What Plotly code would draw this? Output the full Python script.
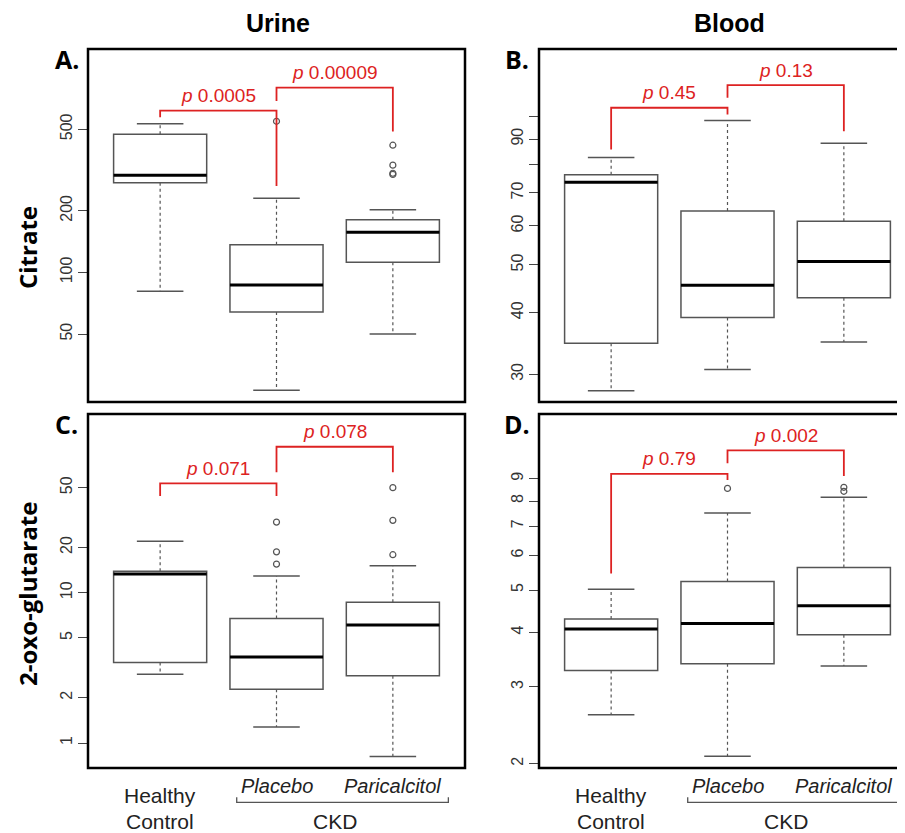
import math
import plotly.graph_objects as go

# ---------------- data ----------------
groups = ["Healthy Control", "Placebo", "Paricalcitol"]
xpos = [1, 2, 3]

# A. Urine citrate
a_lower = [81, 26.6, 50]
a_q1 = [274, 64, 112]
a_median = [298, 86.7, 157]
a_q3 = [473, 136.5, 181]
a_upper = [532, 230, 202]
a_outliers = [[], [547], [418, 334, 305, 301]]
a_pvals = ["0.0005", "0.00009"]
a_ticks = [50, 100, 200, 500]

# B. Blood citrate
b_lower = [27.8, 30.7, 34.9]
b_q1 = [34.7, 39.1, 42.9]
b_median = [73.6, 45.5, 50.8]
b_q3 = [76.2, 64.3, 61.3]
b_upper = [82.6, 98.2, 88.3]
b_outliers = [[], [], []]
b_pvals = ["0.45", "0.13"]
b_ticks = [30, 40, 50, 60, 70, 80, 90, 100]
b_ticktext = ["30", "40", "50", "60", "70", "", "90", ""]

# C. Urine 2-oxo-glutarate
c_lower = [2.87, 1.28, 0.815]
c_q1 = [3.44, 2.28, 2.80]
c_median = [13.3, 3.73, 6.1]
c_q3 = [13.9, 6.75, 8.63]
c_upper = [22.0, 12.9, 15.1]
c_outliers = [[], [29.5, 18.7, 15.5], [50, 30.3, 17.9]]
c_pvals = ["0.071", "0.078"]
c_ticks = [1, 2, 5, 10, 20, 50]

# D. Blood 2-oxo-glutarate
d_lower = [2.59, 2.08, 3.35]
d_q1 = [3.27, 3.39, 3.95]
d_median = [4.07, 4.19, 4.60]
d_q3 = [4.29, 5.23, 5.63]
d_upper = [5.02, 7.51, 8.16]
d_outliers = [[], [8.55], [8.6, 8.42]]
d_pvals = ["0.79", "0.002"]
d_ticks = [2, 3, 4, 5, 6, 7, 8, 9]

# bracket levels: [bar, left leg end, right leg end] for each of two brackets
a_brackets = [[616, 572, 264], [798, 687, 487]]
b_brackets = [[104.2, 85.7, 101], [115.8, 109.2, 93.4]]
c_brackets = [[53.4, 44.0, 44.0], [93.6, 63.2, 63.2]]
d_brackets = [[9.23, 5.46, 8.94], [10.45, 9.76, 9.13]]

# ---------------- geometry ----------------
OFF = 8                      # page body margin
W, H = 905 - OFF, 833 - OFF  # figure size


def px(x):
    return (x - OFF) / W


def py(y):
    return 1 - (y - OFF) / H


BOX_LINE = "#555555"
RED = "#dd2222"
TXT = "Liberation Sans, Arial"

panels = [
    dict(ax="", lower=a_lower, q1=a_q1, med=a_median, q3=a_q3, up=a_upper, out=a_outliers,
         p=a_pvals, br=a_brackets, ticks=a_ticks, ticktext=[str(t) for t in a_ticks],
         yr=[1.367, 3.091], xd=[88, 465], yd=[49, 402], letter="A.", lpos=(67, 59)),
    dict(ax="2", lower=b_lower, q1=b_q1, med=b_median, q3=b_q3, up=b_upper, out=b_outliers,
         p=b_pvals, br=b_brackets, ticks=b_ticks, ticktext=b_ticktext,
         yr=[1.421, 2.137], xd=[539, 905], yd=[49, 402], letter="B.", lpos=(517, 59)),
    dict(ax="3", lower=c_lower, q1=c_q1, med=c_median, q3=c_q3, up=c_upper, out=c_outliers,
         p=c_pvals, br=c_brackets, ticks=c_ticks, ticktext=[str(t) for t in c_ticks],
         yr=[-0.166, 2.189], xd=[88, 465], yd=[414, 768], letter="C.", lpos=(67, 424)),
    dict(ax="4", lower=d_lower, q1=d_q1, med=d_median, q3=d_q3, up=d_upper, out=d_outliers,
         p=d_pvals, br=d_brackets, ticks=d_ticks, ticktext=[str(t) for t in d_ticks],
         yr=[0.2911, 1.1025], xd=[539, 905], yd=[414, 768], letter="D.", lpos=(517, 424)),
]

FULL_W = 377.0  # full panel width in px (x range 0.38..3.62)
XR0, XSPAN = 0.38, 3.24

fig = go.Figure()
layout_axes = {}
shapes = []
annotations = []

for pnl in panels:
    s = pnl["ax"]
    xa, ya = "x" + s, "y" + s
    # boxes
    for i, x in enumerate(xpos):
        fig.add_trace(go.Box(
            x=[x], q1=[pnl["q1"][i]], median=[pnl["med"][i]], q3=[pnl["q3"][i]],
            lowerfence=[pnl["q1"][i]], upperfence=[pnl["q3"][i]],
            width=0.8, whiskerwidth=0, fillcolor="white",
            line=dict(color=BOX_LINE, width=1.5), boxpoints=False,
            xaxis=xa, yaxis=ya, showlegend=False, hoverinfo="skip"))
    # dashed whiskers
    wx, wy = [], []
    for i, x in enumerate(xpos):
        wx += [x, x, None, x, x, None]
        wy += [pnl["q3"][i], pnl["up"][i], None, pnl["q1"][i], pnl["lower"][i], None]
    fig.add_trace(go.Scatter(x=wx, y=wy, mode="lines", xaxis=xa, yaxis=ya,
                             line=dict(color=BOX_LINE, width=1.2, dash="3px,3px"),
                             showlegend=False, hoverinfo="skip"))
    # caps
    cx, cy = [], []
    for i, x in enumerate(xpos):
        cx += [x - 0.2, x + 0.2, None, x - 0.2, x + 0.2, None]
        cy += [pnl["up"][i], pnl["up"][i], None, pnl["lower"][i], pnl["lower"][i], None]
    fig.add_trace(go.Scatter(x=cx, y=cy, mode="lines", xaxis=xa, yaxis=ya,
                             line=dict(color=BOX_LINE, width=1.5),
                             showlegend=False, hoverinfo="skip"))
    # medians
    mx, my = [], []
    for i, x in enumerate(xpos):
        mx += [x - 0.4, x + 0.4, None]
        my += [pnl["med"][i], pnl["med"][i], None]
    fig.add_trace(go.Scatter(x=mx, y=my, mode="lines", xaxis=xa, yaxis=ya,
                             line=dict(color="black", width=3),
                             showlegend=False, hoverinfo="skip"))
    # outliers
    ox, oy = [], []
    for i, x in enumerate(xpos):
        for v in pnl["out"][i]:
            ox.append(x)
            oy.append(v)
    if ox:
        fig.add_trace(go.Scatter(x=ox, y=oy, mode="markers", xaxis=xa, yaxis=ya,
                                 marker=dict(symbol="circle-open", size=6, color=BOX_LINE,
                                             line=dict(width=1.2)),
                                 showlegend=False, hoverinfo="skip"))
    # p-value brackets
    for k in range(2):
        bar, lend, rend = pnl["br"][k]
        x0, x1 = xpos[k], xpos[k + 1]
        fig.add_trace(go.Scatter(x=[x0, x0, x1, x1], y=[lend, bar, bar, rend], mode="lines",
                                 xaxis=xa, yaxis=ya, line=dict(color=RED, width=1.8),
                                 showlegend=False, hoverinfo="skip"))
        annotations.append(dict(x=(x0 + x1) / 2, y=math.log10(bar), xref=xa, yref=ya,
                                text="<i>p</i> " + pnl["p"][k], showarrow=False,
                                yanchor="middle", yshift=15,
                                font=dict(family=TXT, size=19, color=RED)))

    # axes
    x0px, x1px = pnl["xd"]
    y0px, y1px = pnl["yd"]
    width_px = x1px - x0px
    xr = [XR0, XR0 + XSPAN * width_px / FULL_W]
    layout_axes["xaxis" + s] = dict(domain=[px(x0px), min(1.0, px(x1px))], range=xr, anchor=ya,
                                    showticklabels=False, ticks="", showgrid=False,
                                    zeroline=False, showline=False, fixedrange=True)
    layout_axes["yaxis" + s] = dict(domain=[py(y1px), py(y0px)], type="log",
                                    range=pnl["yr"], anchor=xa,
                                    tickmode="array", tickvals=pnl["ticks"], ticktext=pnl["ticktext"],
                                    tickangle=-90, ticks="outside", ticklen=9, tickwidth=1.2,
                                    tickcolor="#444444",
                                    tickfont=dict(family=TXT, size=16, color="#333333"),
                                    showgrid=False, zeroline=False, showline=False, fixedrange=True)
    # frame
    shapes.append(dict(type="rect", xref=xa + " domain", yref=ya + " domain",
                       x0=0, x1=FULL_W / width_px, y0=0, y1=1,
                       line=dict(color="black", width=2.5), layer="above"))
    # panel letter
    lx, ly = pnl["lpos"]
    annotations.append(dict(x=px(lx), y=py(ly), xref="paper", yref="paper",
                            text="<b>" + pnl["letter"] + "</b>", showarrow=False,
                            xanchor="center", yanchor="middle",
                            font=dict(family="Open Sans", size=25, color="black")))

    # bottom group labels (only for lower panels)
    if y0px > 300:
        annotations.append(dict(x=xpos[0], y=py(795.5), xref=xa, yref="paper",
                                text="Healthy", showarrow=False, yanchor="middle",
                                font=dict(family=TXT, size=21, color="#222222")))
        annotations.append(dict(x=xpos[0], y=py(821.5), xref=xa, yref="paper",
                                text="Control", showarrow=False, yanchor="middle",
                                font=dict(family=TXT, size=21, color="#222222")))
        for j in (1, 2):
            annotations.append(dict(x=xpos[j], y=py(785.5), xref=xa, yref="paper",
                                    text="<i>" + groups[j] + "</i>", showarrow=False, yanchor="middle",
                                    font=dict(family=TXT, size=20, color="#222222")))
        annotations.append(dict(x=(xpos[1] + xpos[2]) / 2, y=py(821.5), xref=xa, yref="paper",
                                text="CKD", showarrow=False, yanchor="middle",
                                font=dict(family=TXT, size=21, color="#222222")))
        # CKD brace
        bl, brr = 1.658, 3.477
        yb, yt = py(802.3), py(797.3)
        shapes.append(dict(type="path", xref=xa, yref="paper",
                           path=f"M {bl},{yt} L {bl},{yb} L {brr},{yb} L {brr},{yt}",
                           line=dict(color="#555555", width=1.3)))

# column titles
annotations.append(dict(x=px(278), y=py(23), xref="paper", yref="paper", text="<b>Urine</b>",
                        showarrow=False, xanchor="center", yanchor="middle",
                        font=dict(family=TXT, size=25, color="black")))
annotations.append(dict(x=px(729), y=py(23), xref="paper", yref="paper", text="<b>Blood</b>",
                        showarrow=False, xanchor="center", yanchor="middle",
                        font=dict(family=TXT, size=25, color="black")))
# row titles
annotations.append(dict(x=px(27), y=py(248), xref="paper", yref="paper", text="<b>Citrate</b>",
                        showarrow=False, textangle=-90, xanchor="center", yanchor="middle",
                        font=dict(family="Open Sans", size=24, color="black")))
annotations.append(dict(x=px(27), y=py(594), xref="paper", yref="paper",
                        text="<b>2-oxo-glutarate</b>",
                        showarrow=False, textangle=-90, xanchor="center", yanchor="middle",
                        font=dict(family="Open Sans", size=24, color="black")))

fig.update_layout(
    width=W, height=H,
    margin=dict(l=0, r=0, t=0, b=0),
    paper_bgcolor="white", plot_bgcolor="white",
    showlegend=False,
    boxmode="overlay",
    shapes=shapes,
    annotations=annotations,
    **layout_axes,
)

fig.write_html("out.html")
